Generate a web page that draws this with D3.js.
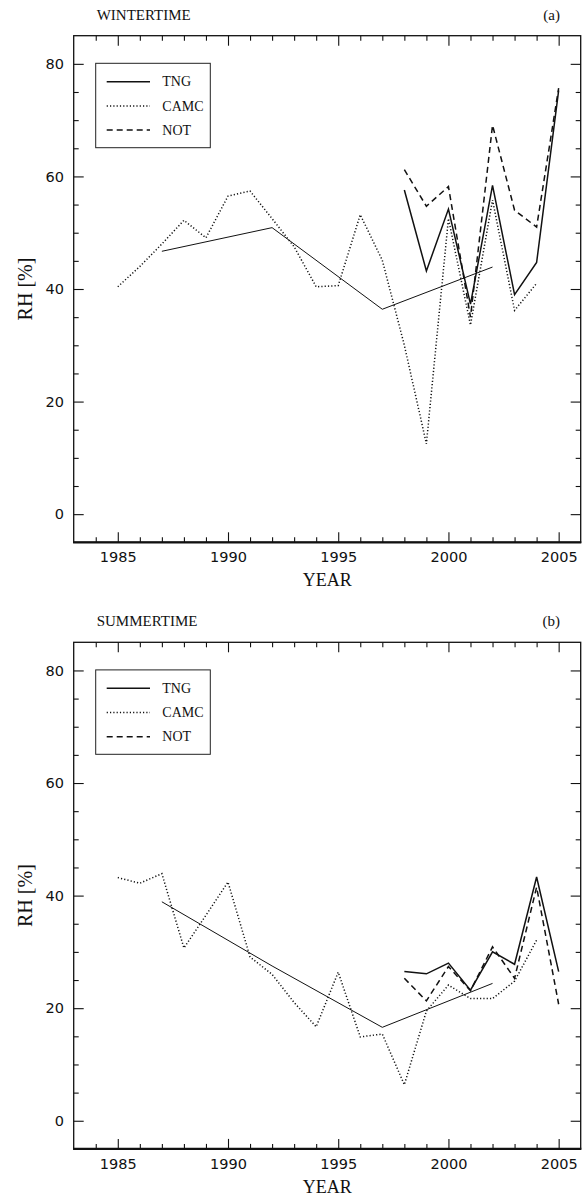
<!DOCTYPE html>
<html>
<head>
<meta charset="utf-8">
<script src="https://cdn.jsdelivr.net/npm/d3@7/dist/d3.min.js"></script>
<style>
  html, body { margin: 0; padding: 0; background: #fff; }
  svg { display: block; }
</style>
</head>
<body>
<svg id="chart" width="588" height="1198"></svg>
<script>
// ---- data: relative humidity (%) per year ----
const panelTitles = ["WINTERTIME", "SUMMERTIME"];
const panelTags = ["(a)", "(b)"];
const legendLabels = ["TNG", "CAMC", "NOT"];

const xMajorTicks = [1985, 1990, 1995, 2000, 2005];
const yMajorTicks = [0, 20, 40, 60, 80];

// long-term TNG averages (5-year steps)
const tngLongYears = [1987, 1992, 1997, 2002];
const tngLongWinter = [46.7, 50.9, 36.4, 43.9];
const tngLongSummer = [38.9, 27.5, 16.6, 24.4];

// yearly TNG
const tngYears = [1998, 1999, 2000, 2001, 2002, 2003, 2004, 2005];
const tngWinter = [57.6, 43.2, 54.2, 37.3, 58.4, 39.0, 44.7, 75.3];
const tngSummer = [26.5, 26.1, 28.0, 23.2, 30.0, 27.8, 43.3, 26.5];

// yearly CAMC
const camcYears = [1985, 1986, 1987, 1988, 1989, 1990, 1991, 1992, 1993, 1994,
                   1995, 1996, 1997, 1998, 1999, 2000, 2001, 2002, 2003, 2004];
const camcWinter = [40.4, 44.0, 48.0, 52.2, 49.1, 56.5, 57.4, 52.5, 47.5, 40.4,
                    40.6, 53.2, 45.1, 30.0, 12.5, 52.5, 33.6, 55.8, 36.2, 41.0];
const camcSummer = [43.2, 42.2, 43.9, 30.7, 36.5, 42.4, 29.1, 26.0, 21.0, 16.7,
                    26.4, 14.9, 15.4, 6.4, 19.5, 24.1, 21.7, 21.7, 24.8, 32.1];

// yearly NOT
const notYears = [1998, 1999, 2000, 2001, 2002, 2003, 2004, 2005];
const notWinter = [61.2, 54.7, 58.2, 35.0, 69.1, 54.0, 51.0, 75.7];
const notSummer = [25.3, 21.3, 27.4, 23.1, 30.9, 25.3, 41.5, 20.7];

// ---- layout ----
const svg = d3.select("#chart");
const plotLeft = 73.7, plotRight = 580.7;
const plotTop = 35.7, plotBottom = 542.3;
const panelStep = 606.6;

const x = d3.scaleLinear().domain([1983, 2006]).range([plotLeft, plotRight]);
const y = d3.scaleLinear().domain([-5, 85]).range([plotBottom, plotTop]);

const xMinor = d3.range(1984, 2006).filter(v => v % 5 !== 0);
const yMinor = d3.range(5, 85, 5).filter(v => v % 20 !== 0);

const styles = {
  long:   { width: 1.0, dash: null },
  tng:    { width: 1.5, dash: null },
  camc:   { width: 1.5, dash: "1.2,2.1" },
  not:    { width: 1.5, dash: "6,4" }
};

const panels = [
  { long: tngLongWinter, tng: tngWinter, camc: camcWinter, not: notWinter },
  { long: tngLongSummer, tng: tngSummer, camc: camcSummer, not: notSummer }
];

const line = d3.line().x(d => x(d[0])).y(d => y(d[1]));

function styleAxis(g) {
  g.select(".domain").remove();
  g.selectAll(".tick line").attr("stroke", "#111").attr("stroke-width", 1.1);
  g.selectAll(".tick text")
    .attr("fill", "#111")
    .style("font-family", "'DejaVu Sans', sans-serif")
    .style("font-size", "14.5px");
}

panels.forEach((p, i) => {
  const g = svg.append("g").attr("transform", `translate(0,${i * panelStep})`);

  // axes: major and minor ticks on all four sides, pointing inward
  g.append("g").attr("transform", `translate(0,${plotBottom})`)
    .call(d3.axisBottom(x).tickValues(xMajorTicks).tickFormat(d3.format("d"))
      .tickSize(-10).tickPadding(9.4)).call(styleAxis);
  g.append("g").attr("transform", `translate(0,${plotBottom})`)
    .call(d3.axisBottom(x).tickValues(xMinor).tickFormat("").tickSize(-5)).call(styleAxis);
  g.append("g").attr("transform", `translate(0,${plotTop})`)
    .call(d3.axisTop(x).tickValues(xMajorTicks).tickFormat("").tickSize(-10)).call(styleAxis);
  g.append("g").attr("transform", `translate(0,${plotTop})`)
    .call(d3.axisTop(x).tickValues(xMinor).tickFormat("").tickSize(-5)).call(styleAxis);

  g.append("g").attr("transform", `translate(${plotLeft},0)`)
    .call(d3.axisLeft(y).tickValues(yMajorTicks).tickFormat(d3.format("d"))
      .tickSize(-10).tickPadding(9.7)).call(styleAxis);
  g.append("g").attr("transform", `translate(${plotLeft},0)`)
    .call(d3.axisLeft(y).tickValues(yMinor).tickFormat("").tickSize(-5)).call(styleAxis);
  g.append("g").attr("transform", `translate(${plotRight},0)`)
    .call(d3.axisRight(y).tickValues(yMajorTicks).tickFormat("").tickSize(-10)).call(styleAxis);
  g.append("g").attr("transform", `translate(${plotRight},0)`)
    .call(d3.axisRight(y).tickValues(yMinor).tickFormat("").tickSize(-5)).call(styleAxis);

  // frame
  g.append("rect")
    .attr("x", plotLeft).attr("y", plotTop)
    .attr("width", plotRight - plotLeft).attr("height", plotBottom - plotTop)
    .attr("fill", "none").attr("stroke", "#111").attr("stroke-width", 1.3);
  g.append("line")
    .attr("x1", plotLeft - 0.6).attr("x2", plotRight + 0.6)
    .attr("y1", plotBottom).attr("y2", plotBottom)
    .attr("stroke", "#111").attr("stroke-width", 2.2);

  // series
  const series = [
    { years: tngLongYears, vals: p.long, st: styles.long },
    { years: camcYears, vals: p.camc, st: styles.camc },
    { years: notYears, vals: p.not, st: styles.not },
    { years: tngYears, vals: p.tng, st: styles.tng }
  ];
  series.forEach(s => {
    g.append("path")
      .datum(s.years.map((yr, k) => [yr, s.vals[k]]))
      .attr("d", line)
      .attr("fill", "none")
      .attr("stroke", "#111")
      .attr("stroke-width", s.st.width)
      .attr("stroke-linejoin", "miter")
      .attr("stroke-dasharray", s.st.dash);
  });

  // legend
  const lg = g.append("g");
  lg.append("rect")
    .attr("x", 95.7).attr("y", 63.3).attr("width", 114.6).attr("height", 84.4)
    .attr("fill", "#fff").attr("stroke", "#222").attr("stroke-width", 1);
  const legendStyles = [styles.tng, styles.camc, styles.not];
  legendLabels.forEach((lab, k) => {
    const ly = 81.7 + k * 24.2;
    lg.append("line")
      .attr("x1", 106.7).attr("x2", 150).attr("y1", ly).attr("y2", ly)
      .attr("stroke", "#111")
      .attr("stroke-width", legendStyles[k].width)
      .attr("stroke-dasharray", legendStyles[k].dash);
    lg.append("text")
      .attr("x", 162.3).attr("y", ly + 4.6)
      .style("font-family", "'Liberation Serif', serif")
      .style("font-size", "14px")
      .attr("fill", "#111")
      .text(lab);
  });

  // titles
  g.append("text")
    .attr("x", 96.7).attr("y", 19.5)
    .style("font-family", "'Liberation Serif', serif")
    .style("font-size", "15px").attr("fill", "#111")
    .text(panelTitles[i]);
  g.append("text")
    .attr("x", 560).attr("y", 19.5).attr("text-anchor", "end")
    .style("font-family", "'Liberation Serif', serif")
    .style("font-size", "15px").attr("fill", "#111")
    .text(panelTags[i]);

  // axis titles
  g.append("text")
    .attr("x", (plotLeft + plotRight) / 2).attr("y", 586)
    .attr("text-anchor", "middle")
    .style("font-family", "'Liberation Serif', serif")
    .style("font-size", "18px").attr("fill", "#111")
    .text("YEAR");
  g.append("text")
    .attr("transform", `translate(31.7,${(plotTop + plotBottom) / 2}) rotate(-90)`)
    .attr("text-anchor", "middle")
    .style("font-family", "'Liberation Serif', serif")
    .style("font-size", "20px").attr("fill", "#111")
    .text("RH [%]");
});
</script>
</body>
</html>
